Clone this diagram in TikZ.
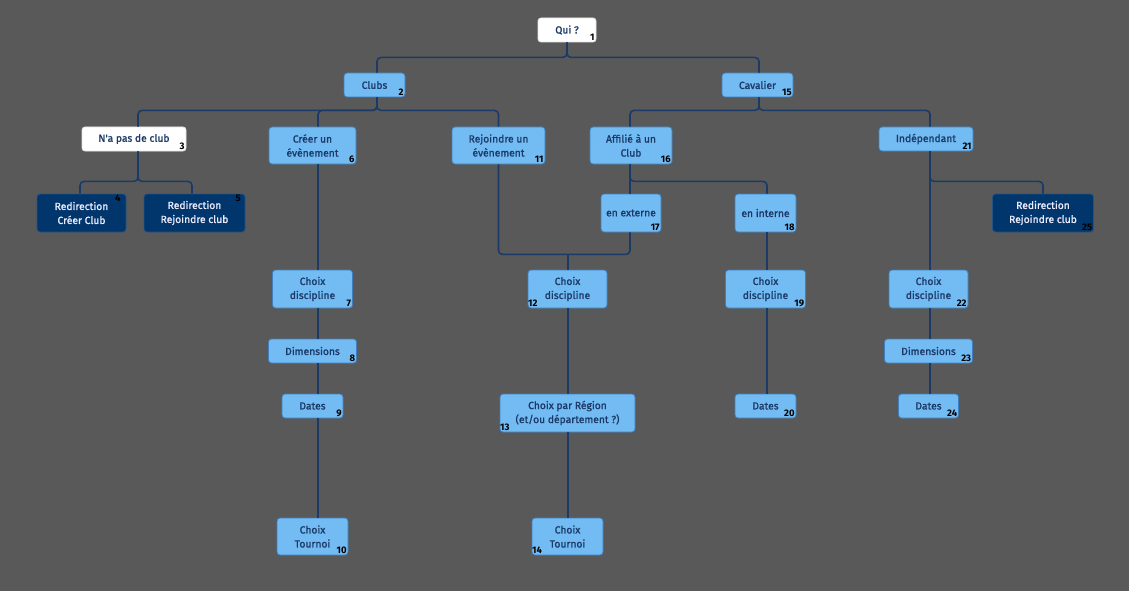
\documentclass[tikz,border=0pt]{standalone}
\usepackage{fontspec}
\setmainfont{Fira Sans}
\newfontfamily\boxfont{Fira Sans}[FakeBold=1.3]
\definecolor{bgc}{HTML}{595959}
\definecolor{lbfill}{HTML}{72BBF3}
\definecolor{lbdraw}{HTML}{3F7FBF}
\definecolor{dkfill}{HTML}{00366B}
\definecolor{navy}{HTML}{1B3A68}
\definecolor{linec}{HTML}{1C3A66}
\tikzset{
  box/.style={rounded corners=3pt, inner sep=0pt, align=center, font=\boxfont\fontsize{10.3}{14}\selectfont, text=navy, line width=0.8pt},
  lb/.style={box, fill=lbfill, draw=lbdraw},
  wb/.style={box, fill=white, draw=white!80!gray},
  db/.style={box, fill=dkfill, draw=dkfill!85!white, text=white!92!blue},
  num/.style={font=\bfseries\fontsize{9.5}{10}\selectfont, text=black, inner sep=1.6pt},
  conn/.style={draw=linec, line width=1.6pt, rounded corners=4pt},
}
\begin{document}
\begin{tikzpicture}[x=1pt,y=-1pt]
\fill[bgc] (0,0) rectangle (1129,591);
\useasboundingbox (0,0) rectangle (1129,591);
% nodes
\node[wb, minimum width=58pt, minimum height=24pt] (qui) at (567,30) {Qui ?};
\node[lb, minimum width=61pt, minimum height=24pt] (clubs) at (374.5,85) {Clubs};
\node[lb, minimum width=71pt, minimum height=24pt] (cav) at (757.5,85) {Cavalier};
\node[wb, minimum width=104pt, minimum height=24pt] (nap) at (134,139) {N'a pas de club};
\node[lb, minimum width=87pt, minimum height=37pt] (cre) at (312.5,145.5) {Créer un\\évènement};
\node[lb, minimum width=93pt, minimum height=37pt] (rej) at (498.5,145.5) {Rejoindre un\\évènement};
\node[lb, minimum width=82pt, minimum height=37pt] (aff) at (631,145.5) {Affilié à un\\Club};
\node[lb, minimum width=94pt, minimum height=24pt] (ind) at (926,139) {Indépendant};
\node[db, minimum width=89pt, minimum height=38pt] (rfour) at (81.5,213) {Redirection\\Créer Club};
\node[db, minimum width=101pt, minimum height=38pt] (rfive) at (194.5,213) {Redirection\\Rejoindre club};
\node[lb, minimum width=60pt, minimum height=38pt] (ext) at (631,213) {en externe};
\node[lb, minimum width=61pt, minimum height=38pt] (int) at (765.5,213) {en interne};
\node[db, minimum width=101pt, minimum height=38pt] (rtf) at (1043,213) {Redirection\\Rejoindre club};
\node[lb, minimum width=80pt, minimum height=38pt] (cdseven) at (312.5,289) {Choix\\discipline};
\node[lb, minimum width=79pt, minimum height=38pt] (cdtwelve) at (567.5,289) {Choix\\discipline};
\node[lb, minimum width=80pt, minimum height=38pt] (cdnineteen) at (765.5,289) {Choix\\discipline};
\node[lb, minimum width=79pt, minimum height=38pt] (cdtt) at (928.5,289) {Choix\\discipline};
\node[lb, minimum width=88pt, minimum height=24pt] (dimeight) at (312.5,351) {Dimensions};
\node[lb, minimum width=88pt, minimum height=24pt] (dimtt) at (928.5,351) {Dimensions};
\node[lb, minimum width=61pt, minimum height=24pt] (datnine) at (312.5,406) {Dates};
\node[lb, minimum width=61pt, minimum height=24pt] (dattw) at (765.5,406) {Dates};
\node[lb, minimum width=60pt, minimum height=24pt] (dattf) at (928.5,406) {Dates};
\node[lb, minimum width=135pt, minimum height=38pt] (reg) at (567.5,413) {Choix par Région\\(et/ou département ?)};
\node[lb, minimum width=71pt, minimum height=37pt] (touten) at (312.5,536.5) {Choix\\Tournoi};
\node[lb, minimum width=71pt, minimum height=37pt] (toufourteen) at (567.5,536.5) {Choix\\Tournoi};
% numbers
\node[num, anchor=south east] (n1) at (qui.south east) {1};
\node[num, anchor=south east] (n2) at (clubs.south east) {2};
\node[num, anchor=south east] (n3) at (nap.south east) {3};
\node[num, anchor=north east] (n4) at ([xshift=-4pt]rfour.north east) {4};
\node[num, anchor=north east] (n5) at ([xshift=-3pt]rfive.north east) {5};
\node[num, anchor=south east] (n6) at (cre.south east) {6};
\node[num, anchor=south east] (n7) at (cdseven.south east) {7};
\node[num, anchor=south east] (n8) at (dimeight.south east) {8};
\node[num, anchor=south east] (n9) at (datnine.south east) {9};
\node[num, anchor=south east] (n10) at (touten.south east) {10};
\node[num, anchor=south east] (n11) at (rej.south east) {11};
\node[num, anchor=south west, inner xsep=0.3pt] (n12) at (cdtwelve.south west) {12};
\node[num, anchor=south west, inner xsep=0.3pt] (n13) at (reg.south west) {13};
\node[num, anchor=south west, inner xsep=0.3pt] (n14) at (toufourteen.south west) {14};
\node[num, anchor=south east] (n15) at (cav.south east) {15};
\node[num, anchor=south east] (n16) at (aff.south east) {16};
\node[num, anchor=south east] (n17) at (ext.south east) {17};
\node[num, anchor=south east] (n18) at (int.south east) {18};
\node[num, anchor=south east] (n19) at (cdnineteen.south east) {19};
\node[num, anchor=south east] (n20) at (dattw.south east) {20};
\node[num, anchor=south east] (n21) at (ind.south east) {21};
\node[num, anchor=south east] (n22) at (cdtt.south east) {22};
\node[num, anchor=south east] (n23) at (dimtt.south east) {23};
\node[num, anchor=south east] (n24) at (dattf.south east) {24};
\node[num, anchor=south east] (n25) at (rtf.south east) {25};
% connectors
\draw[conn] (qui.south) -- ++(0,15) -| ([xshift=2.5pt]clubs.north);
\draw[conn] (qui.south) -- ++(0,15) -| ([xshift=1.5pt]cav.north);
\draw[conn] ([xshift=2.5pt]clubs.south) -- ++(0,13) -| ([xshift=4pt]nap.north);
\draw[conn] ([xshift=2.5pt]clubs.south) -- ++(0,13) -| ([xshift=5.5pt]cre.north);
\draw[conn] ([xshift=2.5pt]clubs.south) -- ++(0,13) -| (rej.north);
\draw[conn] ([xshift=1.5pt]cav.south) -- ++(0,13) -| ([xshift=-1pt]aff.north);
\draw[conn] ([xshift=1.5pt]cav.south) -- ++(0,13) -| ([xshift=4pt]ind.north);
\draw[conn] ([xshift=4pt]nap.south) -- ++(0,30) -| ([xshift=-1.5pt]rfour.north);
\draw[conn] ([xshift=4pt]nap.south) -- ++(0,30) -| ([xshift=-2.5pt]rfive.north);
\draw[conn] ([xshift=5.5pt]cre.south) -- ([xshift=5.5pt]cdseven.north);
\draw[conn] ([xshift=5.5pt]cdseven.south) -- ([xshift=5.5pt]dimeight.north);
\draw[conn] ([xshift=5.5pt]dimeight.south) -- ([xshift=5.5pt]datnine.north);
\draw[conn] ([xshift=5.5pt]datnine.south) -- ([xshift=5.5pt]touten.north);
\draw[conn] (rej.south) |- ([xshift=-1pt,yshift=-22pt]ext.south) -- ([xshift=-1pt]ext.south);
\draw[conn] ([xshift=0.5pt]cdtwelve.north) -- ++(0,-16);
\draw[conn] ([xshift=0.5pt]cdtwelve.south) -- ([xshift=0.5pt]reg.north);
\draw[conn] ([xshift=0.5pt]reg.south) -- ([xshift=0.5pt]toufourteen.north);
\draw[conn] ([xshift=-1pt]aff.south) -- ([xshift=-1pt]ext.north);
\draw[conn] ([xshift=-1pt]aff.south) -- ++(0,17) -| ([xshift=1.5pt]int.north);
\draw[conn] ([xshift=1.5pt]int.south) -- ([xshift=1.5pt]cdnineteen.north);
\draw[conn] ([xshift=1.5pt]cdnineteen.south) -- ([xshift=1.5pt]dattw.north);
\draw[conn] ([xshift=4pt]ind.south) -- ([xshift=1.5pt]cdtt.north);
\draw[conn] ([xshift=4pt]ind.south) -- ++(0,30) -| (rtf.north);
\draw[conn] ([xshift=1.5pt]cdtt.south) -- ([xshift=1.5pt]dimtt.north);
\draw[conn] ([xshift=1.5pt]dimtt.south) -- ([xshift=1.5pt]dattf.north);
\end{tikzpicture}
\end{document}
